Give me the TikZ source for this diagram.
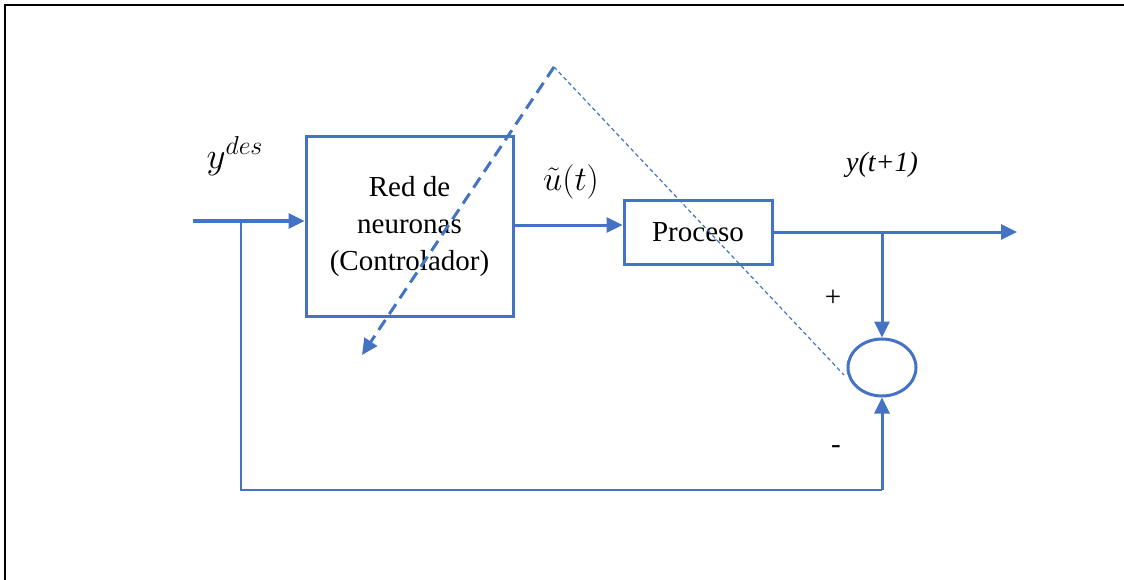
\RequirePackage{fix-cm}
\documentclass[tikz,border=0pt]{standalone}
\usepackage{fontspec}
\usepackage{graphicx}
\setmainfont{Liberation Serif}
\usetikzlibrary{arrows.meta,shapes.geometric,calc}
\definecolor{wireblue}{HTML}{4472C4}
\begin{document}
\begin{tikzpicture}[x=1pt,y=-1pt,
  wire/.style={draw=wireblue,line width=3pt},
  thinwire/.style={draw=wireblue,line width=1.6pt},
  tip/.style={-{Triangle[length=16pt,width=15pt]}},
  block/.style={draw=wireblue,line width=3pt,fill=none,align=center,inner sep=0pt,
    font=\fontsize{29}{37}\selectfont},
  lbl/.style={inner sep=0pt,font=\fontsize{29}{34}\selectfont},
  mlbl/.style={inner sep=0pt,font=\fontsize{20}{24}\selectfont}]
  \useasboundingbox (0,0) rectangle (1124,580);
  % outer frame (top and left edges)
  \draw[line width=2.2pt] (5,580) -- (5,5) -- (1124,5);

  % blocks
  \node[block,minimum width=207pt,minimum height=179pt] (ctrl) at (409.5,226.5)
    {Red de\\neuronas\\(Controlador)};
  \node[block,minimum width=148pt,minimum height=63pt] (proc) at (698,232.5) {Proceso};
  \node[ellipse,draw=wireblue,line width=3pt,minimum width=68pt,minimum height=57pt,inner sep=0pt]
    (sum) at (882,367.5) {};

  % free ends and branch points
  \coordinate (in) at (193,221);
  \coordinate (tap) at (241,221);
  \coordinate (fbcorner) at (241,490);
  \coordinate (out) at (1017,232);
  \coordinate (branch) at (882,232);
  \coordinate (apex) at (554,67);
  \coordinate (dtip) at (362,355);
  \coordinate (dend) at (844,375);

  % signal path
  \draw[wire,tip] (in) -- (in -| ctrl.west);
  \draw[wire,tip] (ctrl.east |- 0,225) -- (proc.west |- 0,225);
  \draw[wire,tip] (proc.east |- out) -- (out);
  \draw[wire,tip] (branch) -- (sum.north);
  \draw[thinwire] (tap) -- (fbcorner) -- (fbcorner -| sum.south);
  \draw[wire,tip] (fbcorner -| sum.south) -- (sum.south);

  % adaptation arrow
  \draw[draw=wireblue,line width=3pt,dash pattern=on 12pt off 7pt,
        -{Triangle[length=16pt,width=15pt]}] (apex) -- (dtip);
  \draw[draw=wireblue,line width=1.2pt,dash pattern=on 4pt off 3pt] (apex) -- (dend);

  % labels
  \node[mlbl] (ydes) at (235,156) {\scalebox{1.85}{$y^{des}$}};
  \node[mlbl] (ut) at (571,182) {\scalebox{1.72}{$\tilde{u}(t)$}};
  \node[lbl,font=\fontsize{28}{33}\selectfont\itshape] (yt) at (882,165) {y(t+1)};
  \node[lbl] (plus) at (833,298) {+};
  \node[lbl] (minus) at (836,450) {-};
\end{tikzpicture}
\end{document}
